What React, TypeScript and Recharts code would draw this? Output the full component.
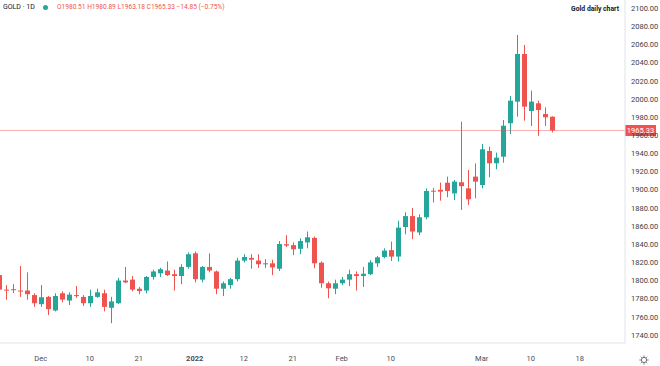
import React from "react";
import { ComposedChart, Bar, XAxis, YAxis, ReferenceLine } from "recharts";

// ---- data ----
const dates = [
  "2021-11-23","2021-11-24","2021-11-25","2021-11-26","2021-11-29","2021-11-30",
  "2021-12-01","2021-12-02","2021-12-03","2021-12-06","2021-12-07","2021-12-08","2021-12-09","2021-12-10",
  "2021-12-13","2021-12-14","2021-12-15","2021-12-16","2021-12-17","2021-12-20","2021-12-21","2021-12-22",
  "2021-12-23","2021-12-27","2021-12-28","2021-12-29","2021-12-30","2021-12-31",
  "2022-01-03","2022-01-04","2022-01-05","2022-01-06","2022-01-07","2022-01-10","2022-01-11","2022-01-12",
  "2022-01-13","2022-01-14","2022-01-17","2022-01-18","2022-01-19","2022-01-20","2022-01-21","2022-01-24",
  "2022-01-25","2022-01-26","2022-01-27","2022-01-28","2022-01-31",
  "2022-02-01","2022-02-02","2022-02-03","2022-02-04","2022-02-07","2022-02-08","2022-02-09","2022-02-10",
  "2022-02-11","2022-02-14","2022-02-15","2022-02-16","2022-02-17","2022-02-18","2022-02-21","2022-02-22",
  "2022-02-23","2022-02-24","2022-02-25","2022-02-28",
  "2022-03-01","2022-03-02","2022-03-03","2022-03-04","2022-03-07","2022-03-08","2022-03-09","2022-03-10",
  "2022-03-11","2022-03-14","2022-03-15",
];

const open = [
  1806, 1790, 1790.5, 1789, 1789, 1784,
  1774, 1782, 1767, 1786, 1778, 1784, 1782, 1775,
  1782, 1786, 1770, 1775, 1800, 1801, 1791, 1789,
  1804, 1808, 1811, 1807, 1805, 1815,
  1830, 1801, 1815, 1810, 1791, 1795, 1801.5, 1822,
  1825, 1822, 1818, 1819, 1813, 1840, 1839, 1835,
  1842, 1847, 1819.7, 1797, 1791,
  1797, 1801, 1807, 1805, 1807, 1819, 1826, 1833.5,
  1826.4, 1859, 1871, 1853, 1869.7, 1899, 1900, 1907.8,
  1896, 1908.3, 1901.6, 1914.5,
  1905.3, 1942.8, 1929.2, 1936.5, 1973.3, 1997.1, 2049.6, 1986.8,
  1995.3, 1983.5, 1980.51,
];

const high = [
  1812, 1795, 1796, 1816, 1809, 1786,
  1795, 1783, 1786, 1788, 1787, 1794, 1784, 1790,
  1791, 1790, 1782, 1803, 1815, 1805, 1793, 1805,
  1812, 1814, 1821, 1812, 1818, 1831,
  1832, 1816, 1830, 1811, 1799, 1803, 1825, 1829,
  1829, 1829, 1823.5, 1823, 1843.5, 1850, 1842, 1846.5,
  1854, 1848.5, 1821, 1799, 1801,
  1804, 1812, 1810, 1815, 1822.5, 1827, 1835.5, 1843,
  1866, 1875, 1880, 1873, 1901.6, 1902, 1908, 1914.5,
  1910.8, 1975, 1921.8, 1929,
  1950.5, 1947.5, 1941, 1976.9, 2003.4, 2070.6, 2059.6, 2009.2,
  1998.2, 1990.9, 1980.89,
];

const low = [
  1786, 1779, 1786, 1782, 1779, 1771,
  1771, 1762, 1766, 1776, 1773, 1781, 1772, 1771,
  1781, 1766, 1753, 1774, 1797, 1788, 1785, 1786,
  1801, 1804, 1805, 1789, 1796, 1813,
  1798, 1798, 1809, 1785, 1783, 1791, 1799, 1820,
  1813, 1814, 1814, 1806, 1810.5, 1837, 1828, 1829,
  1835.5, 1813.5, 1792, 1780.5, 1785,
  1795, 1794, 1789, 1793, 1806, 1815, 1824.5, 1821.5,
  1821, 1851, 1845.5, 1850, 1867.5, 1886, 1888, 1891.8,
  1888.8, 1877.8, 1883.3, 1890.6,
  1901.6, 1913.8, 1922.6, 1929.9, 1961.5, 1980.6, 1976.2, 1970.3,
  1959.3, 1970.3, 1963.18,
];

const close = [
  1790, 1789, 1789.5, 1788, 1785, 1775,
  1781.6, 1768.5, 1783, 1779, 1784.5, 1783, 1775, 1783,
  1787, 1771, 1777, 1800, 1798, 1790, 1788.5, 1804,
  1810, 1812.5, 1806, 1805, 1815, 1829,
  1801.5, 1815, 1811, 1791, 1797, 1801.5, 1822, 1826,
  1823, 1818, 1819, 1814.5, 1840.3, 1838.5, 1834.5, 1843.5,
  1847.7, 1819, 1797, 1791.5, 1797,
  1801, 1807, 1805, 1807.5, 1820, 1825.6, 1833, 1826.4,
  1858.3, 1871, 1854, 1869.7, 1898.7, 1898, 1898, 1898.7,
  1909, 1904, 1889.5, 1909,
  1944.6, 1929.2, 1935.4, 1970.6, 1998.2, 2049.6, 1991.6, 1997.1,
  1987.9, 1979.9, 1965.33,
];

const lastPrice = 1965.33;

const priceTicks = [1740, 1760, 1780, 1800, 1820, 1840, 1860, 1880, 1900, 1920, 1940, 1960, 1980, 2000, 2020, 2040, 2060, 2080, 2100];
const priceDomain = [1731.2, 2109.1];

// time-axis ticks: bar index (index 82/83 lie in the future, past the last bar)
const timeTickIdx = [6, 13, 20, 28, 35, 42, 49, 56, 69, 76, 83];
const timeTickLabels = ["Dec", "10", "21", "2022", "12", "21", "Feb", "10", "Mar", "10", "18"];
const timeDomain = [0.186, 89.47];

const header = "GOLD · 1D";
const ohlcText = "O1980.51 H1980.89 L1963.18 C1965.33 −14.85 (−0.75%)";
const title = "Gold daily chart";

const rows = dates.map((d, i) => ({ i, d, o: open[i], h: high[i], l: low[i], c: close[i] }));

const UP = "#26a69a";
const DOWN = "#ef5350";
const FONT = 'Roboto, "Noto Sans", sans-serif';

const Candle = (props: any) => {
  const { x, y, width, height, payload } = props;
  if (!payload) return null;
  const { o, h, l, c } = payload;
  const cx = Math.round(x + width / 2) + 0.5;
  const span = h - l;
  const py = (p: number) => (span === 0 ? y : y + ((h - p) / span) * height);
  const color = c >= o ? UP : DOWN;
  const top = py(Math.max(o, c));
  const bot = py(Math.min(o, c));
  const bh = Math.max(1, bot - top);
  return (
    <g>
      <line x1={cx} x2={cx} y1={y} y2={y + height} stroke={color} strokeWidth={1} />
      <rect x={cx - 2.5} y={top} width={5} height={bh} fill={color} />
    </g>
  );
};

const TimeTick = (props: any) => {
  const { x, payload } = props;
  const k = timeTickIdx.indexOf(payload.value);
  const label = k >= 0 ? timeTickLabels[k] : "";
  const bold = label === "2022";
  return (
    <text x={x} y={358} textAnchor="middle" dominantBaseline="central" fontSize={7.5}
      fontFamily={FONT} fontWeight={bold ? 700 : 400} fill="#4a4d57">
      {label}
    </text>
  );
};

const PriceLabel = (props: any) => {
  const vb = props.viewBox || {};
  const x0 = (vb.x || 0) + (vb.width || 0);
  const yy = vb.y || 0;
  return (
    <g>
      <rect x={x0} y={yy - 5.5} width={31} height={11} fill={DOWN} />
      <text x={x0 + 15.5} y={yy} textAnchor="middle" dominantBaseline="central" fontSize={7.5}
        fontFamily={FONT} fill="#ffffff">
        {lastPrice.toFixed(2)}
      </text>
    </g>
  );
};

export default function App() {
  return (
    <div style={{ position: "absolute", left: 0, top: 0, width: 660, height: 366, background: "#fff", fontFamily: FONT }}>
      <ComposedChart width={660} height={366} data={rows} margin={{ top: 0, right: 0, bottom: 0, left: 0 }}>
        <XAxis
          dataKey="i"
          type="number"
          domain={timeDomain}
          allowDataOverflow
          ticks={timeTickIdx}
          tick={<TimeTick />}
          tickLine={false}
          axisLine={{ stroke: "#e0e3eb" }}
          height={23}
          interval={0}
        />
        <YAxis
          orientation="right"
          type="number"
          domain={priceDomain}
          allowDataOverflow
          ticks={priceTicks}
          interval={0}
          tickFormatter={(v: number) => v.toFixed(2)}
          tick={{ fontSize: 7.5, fill: "#3b3e47", fontFamily: FONT, textAnchor: "start" }}
          tickLine={false}
          tickSize={0}
          tickMargin={6}
          axisLine={{ stroke: "#e0e3eb" }}
          width={35}
        />
        <Bar dataKey={(d: any) => [d.l, d.h]} barSize={5} shape={<Candle />} isAnimationActive={false} />
        <ReferenceLine y={lastPrice} stroke={DOWN} strokeOpacity={0.45} strokeWidth={1} label={<PriceLabel />} />
      </ComposedChart>

      <div style={{ position: "absolute", left: 3, top: 3, fontSize: 7, lineHeight: "8px", color: "#131722", whiteSpace: "nowrap" }}>
        {header}
      </div>
      <div style={{ position: "absolute", left: 43, top: 4.5, width: 5, height: 5, borderRadius: "50%", background: UP }} />
      <div style={{ position: "absolute", left: 57, top: 3, fontSize: 6.6, lineHeight: "8px", color: DOWN, whiteSpace: "nowrap" }}>
        {ohlcText}
      </div>
      <div style={{ position: "absolute", right: 41, top: 5, fontSize: 6.8, lineHeight: "8px", fontWeight: 700, color: "#131722", whiteSpace: "nowrap" }}>
        {title}
      </div>
      <svg style={{ position: "absolute", left: 638, top: 354 }} width={12} height={12}>
        <circle cx={6} cy={6} r={2.6} fill="none" stroke="#6a6d78" strokeWidth={1} />
        {[0, 45, 90, 135, 180, 225, 270, 315].map((a) => {
          const r = (a * Math.PI) / 180;
          return (
            <line key={a} x1={6 + Math.cos(r) * 3.2} y1={6 + Math.sin(r) * 3.2} x2={6 + Math.cos(r) * 4.6} y2={6 + Math.sin(r) * 4.6}
              stroke="#6a6d78" strokeWidth={1} />
          );
        })}
      </svg>
    </div>
  );
}
